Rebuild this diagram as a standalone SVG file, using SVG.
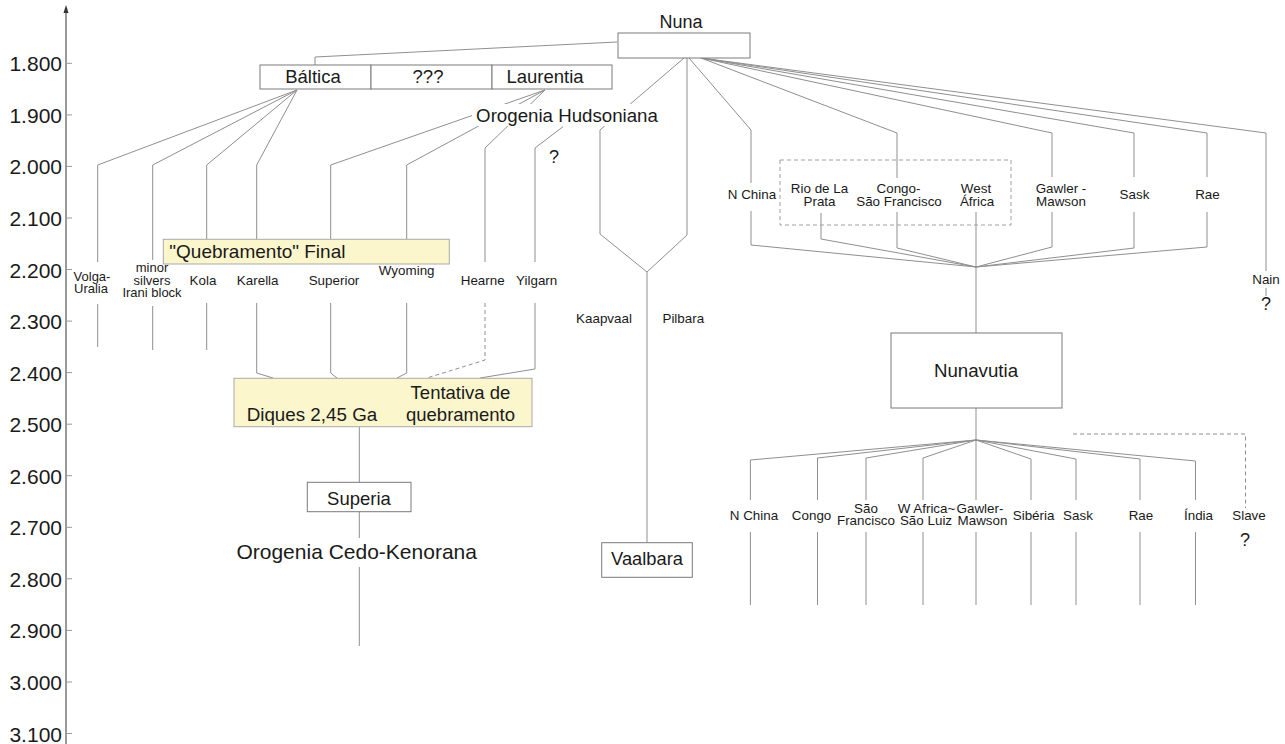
<svg xmlns="http://www.w3.org/2000/svg" width="1285" height="744" viewBox="0 0 1285 744">
<style>
.ln{stroke:#8f8f8f;stroke-width:1;fill:none}
.dash{stroke-dasharray:4 3}
.tick{stroke:#999;stroke-width:1}
.box{fill:#fff;stroke:#7a7a7a;stroke-width:1}
.ybox{fill:#fcf6cd;stroke:#a9a9a9;stroke-width:1}
.gbox{fill:none;stroke:#a0a0a0;stroke-width:1;stroke-dasharray:4 3}
text{font-family:"Liberation Sans",Arial,sans-serif;fill:#1a1a1a}
.ax{font-size:21px;text-anchor:end}
.s{font-size:13.4px;text-anchor:middle}
.m{font-size:18.5px;text-anchor:middle}
.l{font-size:21px;text-anchor:middle}
</style>
<rect width="1285" height="744" fill="#fff"/>
<g id="axis">
<line x1="66" y1="744" x2="66" y2="11" stroke="#555" stroke-width="1.2"/>
<polygon points="66,5 63.5,13 68.5,13" fill="#333"/>
<g>
<line class="tick" x1="66" y1="63.3" x2="72" y2="63.3"/>
<line class="tick" x1="66" y1="114.9" x2="72" y2="114.9"/>
<line class="tick" x1="66" y1="166.4" x2="72" y2="166.4"/>
<line class="tick" x1="66" y1="218" x2="72" y2="218"/>
<line class="tick" x1="66" y1="269.5" x2="72" y2="269.5"/>
<line class="tick" x1="66" y1="321.1" x2="72" y2="321.1"/>
<line class="tick" x1="66" y1="372.6" x2="72" y2="372.6"/>
<line class="tick" x1="66" y1="424.2" x2="72" y2="424.2"/>
<line class="tick" x1="66" y1="475.7" x2="72" y2="475.7"/>
<line class="tick" x1="66" y1="527.3" x2="72" y2="527.3"/>
<line class="tick" x1="66" y1="578.8" x2="72" y2="578.8"/>
<line class="tick" x1="66" y1="630.4" x2="72" y2="630.4"/>
<line class="tick" x1="66" y1="682" x2="72" y2="682"/>
<line class="tick" x1="66" y1="733.5" x2="72" y2="733.5"/>
</g>
<text class="ax" x="62" y="71.3">1.800</text>
<text class="ax" x="62" y="122.9">1.900</text>
<text class="ax" x="62" y="174.4">2.000</text>
<text class="ax" x="62" y="226">2.100</text>
<text class="ax" x="62" y="277.5">2.200</text>
<text class="ax" x="62" y="329.1">2.300</text>
<text class="ax" x="62" y="380.6">2.400</text>
<text class="ax" x="62" y="432.2">2.500</text>
<text class="ax" x="62" y="483.7">2.600</text>
<text class="ax" x="62" y="535.3">2.700</text>
<text class="ax" x="62" y="586.8">2.800</text>
<text class="ax" x="62" y="638.4">2.900</text>
<text class="ax" x="62" y="690">3.000</text>
<text class="ax" x="62" y="741.5">3.100</text>
</g>
<g id="connectors">
<polyline class="ln" points="617,42 315,57 315,65"/>
<polyline class="ln" points="297,90 97.7,165 97.7,262"/>
<polyline class="ln" points="297,90 152.7,165 152.7,260"/>
<polyline class="ln" points="297,90 206.7,165 206.7,239"/>
<polyline class="ln" points="297,90 256.7,165 256.7,239"/>
<polyline class="ln" points="545,90 330.7,165 330.7,239"/>
<polyline class="ln" points="545,90 406.7,165 406.7,239"/>
<polyline class="ln" points="545,90 485,148 485,262"/>
<polyline class="ln" points="563,126.7 535,148 535,262"/>
<polyline class="ln" points="97.7,304 97.7,347"/>
<polyline class="ln" points="152.7,306 152.7,350"/>
<polyline class="ln" points="206.7,303 206.7,350"/>
<polyline class="ln" points="256.7,303 256.7,373 273,378"/>
<polyline class="ln" points="330.7,303 330.7,373 337,378"/>
<polyline class="ln" points="406.7,303 406.7,373 397,378"/>
<polyline class="ln dash" points="485,303 485,360 427,378"/>
<polyline class="ln" points="535,303 535,369 480,378"/>
<polyline class="ln" points="359.3,427 359.3,482"/>
<polyline class="ln" points="359.3,512 359.3,538"/>
<polyline class="ln" points="359.3,567 359.3,646"/>
<polyline class="ln" points="684,58 600,130 600,234 647,272"/>
<polyline class="ln" points="687,58 687,235 647,272"/>
<polyline class="ln" points="647,272 647,543"/>
<polyline class="ln" points="689,58 751,130 751,183"/>
<polyline class="ln" points="701,58 897,133 897,178"/>
<polyline class="ln" points="701,58 1052,133 1052,177"/>
<polyline class="ln" points="701,58 1134,133 1134,177"/>
<polyline class="ln" points="701,58 1207,133 1207,177"/>
<polyline class="ln" points="701,58 1266,133 1266,271"/>
<polyline class="ln" points="1266,288 1266,296"/>
<polyline class="ln" points="751,211 751,245 976,267"/>
<polyline class="ln" points="821,213 821,239 976,267"/>
<polyline class="ln" points="897,212 897,248 976,267"/>
<polyline class="ln" points="1052,212 1052,247 976,267"/>
<polyline class="ln" points="1134,212 1134,248 976,267"/>
<polyline class="ln" points="1207,212 1207,247 976,267"/>
<polyline class="ln" points="976,212 976,333"/>
<polyline class="ln" points="976,408 976,440"/>
<polyline class="ln" points="976,440 750.4,460 750.4,500"/>
<polyline class="ln" points="976,440 817.5,458 817.5,500"/>
<polyline class="ln" points="976,440 866,458 866,500"/>
<polyline class="ln" points="976,440 923,458 923,500"/>
<polyline class="ln" points="976,440 976,500"/>
<polyline class="ln" points="976,440 1031,459 1031,500"/>
<polyline class="ln" points="976,440 1076,459 1076,500"/>
<polyline class="ln" points="976,440 1140,459 1140,500"/>
<polyline class="ln" points="976,440 1195.5,461 1195.5,500"/>
<line class="ln" x1="750.4" y1="532" x2="750.4" y2="605"/>
<line class="ln" x1="817.5" y1="532" x2="817.5" y2="605"/>
<line class="ln" x1="866" y1="532" x2="866" y2="605"/>
<line class="ln" x1="923" y1="532" x2="923" y2="605"/>
<line class="ln" x1="976" y1="532" x2="976" y2="605"/>
<line class="ln" x1="1031" y1="532" x2="1031" y2="605"/>
<line class="ln" x1="1076" y1="532" x2="1076" y2="605"/>
<line class="ln" x1="1140" y1="532" x2="1140" y2="605"/>
<line class="ln" x1="1195.5" y1="532" x2="1195.5" y2="605"/>
<polyline class="ln dash" points="1073,434 1245.5,434 1245.5,508"/>
</g>
<g id="group-dashed">
<rect class="gbox" x="780" y="160" width="231" height="65"/>
</g>
<g id="nuna">
<rect class="box" x="618" y="33" width="132" height="25"/>
<text class="m" x="681" y="28" style="font-size:18px">Nuna</text>
</g>
<g id="baltica">
<rect class="box" x="260" y="65" width="111" height="24"/>
<text class="m" x="313" y="83.3">Báltica</text>
</g>
<g id="unknown">
<rect class="box" x="371" y="65" width="121" height="24"/>
<text class="m" x="428" y="83.3">???</text>
</g>
<g id="laurentia">
<rect class="box" x="492" y="65" width="120" height="24"/>
<text class="m" x="545" y="83.3">Laurentia</text>
</g>
<g id="orogenia-hudsoniana">
<rect x="472" y="104" width="190" height="22" fill="#fff"/>
<text class="m" x="567" y="121.7" style="font-size:18.7px">Orogenia Hudsoniana</text>
<text class="m" x="554" y="163" style="font-size:18px">?</text>
</g>
<g id="quebramento-final">
<rect class="ybox" x="163.3" y="239.3" width="286" height="24.7"/>
<text x="169.3" y="258" style="font-size:19px">"Quebramento" Final</text>
</g>
<g id="left-cratons">
<text class="s" x="92" y="280.5" style="font-size:13px"><tspan x="92">Volga-</tspan><tspan x="91" dy="12.5">Uralia</tspan></text>
<text class="s" x="152" y="272" style="font-size:13px"><tspan x="152">minor</tspan><tspan x="152" dy="12.5">silvers</tspan><tspan x="152" dy="12.5">Irani block</tspan></text>
<text class="s" x="203" y="285">Kola</text>
<text class="s" x="257.7" y="285">Karella</text>
<text class="s" x="334" y="285">Superior</text>
<text class="s" x="406.7" y="275">Wyoming</text>
<text class="s" x="482.7" y="285">Hearne</text>
<text class="s" x="536.7" y="285">Yilgarn</text>
</g>
<g id="diques">
<rect class="ybox" x="234" y="378.3" width="298" height="48.4"/>
<text x="246.7" y="420.7" style="font-size:18.8px">Diques 2,45 Ga</text>
<text class="m" x="460.5" y="399.3"><tspan x="460.5">Tentativa de</tspan><tspan x="460.5" dy="21.4">quebramento</tspan></text>
</g>
<g id="superia">
<rect class="box" x="307.3" y="482.3" width="103.7" height="29.4"/>
<text class="m" x="359" y="505">Superia</text>
</g>
<g id="orogenia-cedo-kenorana">
<text class="l" x="356.7" y="559.3">Orogenia Cedo-Kenorana</text>
</g>
<g id="kaapvaal-pilbara">
<text class="s" x="604" y="323.3">Kaapvaal</text>
<text class="s" x="683.3" y="323.3">Pilbara</text>
</g>
<g id="vaalbara">
<rect class="box" x="601.7" y="542.7" width="90.6" height="34.6"/>
<text class="m" x="647" y="565" style="font-size:18.3px">Vaalbara</text>
</g>
<g id="nuna-cratons">
<text class="s" x="752" y="199.3">N China</text>
<text class="s" x="819.5" y="193.3"><tspan x="819.5">Rio de La</tspan><tspan x="819.5" dy="12.7">Prata</tspan></text>
<text class="s" x="898.5" y="193.3"><tspan x="898.5">Congo-</tspan><tspan x="899" dy="12.7">São Francisco</tspan></text>
<text class="s" x="976" y="193.3"><tspan x="976">West</tspan><tspan x="977" dy="12.7">África</tspan></text>
<text class="s" x="1061" y="193.3"><tspan x="1061">Gawler -</tspan><tspan x="1061" dy="12.7">Mawson</tspan></text>
<text class="s" x="1134.5" y="199.3">Sask</text>
<text class="s" x="1207.5" y="199.3">Rae</text>
</g>
<g id="nain">
<text class="s" x="1266" y="284">Nain</text>
<text class="m" x="1266" y="310" style="font-size:18px">?</text>
</g>
<g id="nunavutia">
<rect class="box" x="891" y="333" width="171" height="75"/>
<text class="m" x="976" y="377" style="font-size:18.7px">Nunavutia</text>
</g>
<g id="nunavutia-cratons">
<text class="s" x="754" y="519.5">N China</text>
<text class="s" x="811.6" y="519.5">Congo</text>
<text class="s" x="866" y="512.5"><tspan x="866">São</tspan><tspan x="866" dy="12.5">Francisco</tspan></text>
<text class="s" x="926.5" y="512.5"><tspan x="926.5">W Africa~</tspan><tspan x="926" dy="12.5">São Luiz</tspan></text>
<text class="s" x="980" y="512.5"><tspan x="980">Gawler-</tspan><tspan x="982.5" dy="12.5">Mawson</tspan></text>
<text class="s" x="1033.6" y="519.5">Sibéria</text>
<text class="s" x="1078" y="519.5">Sask</text>
<text class="s" x="1141" y="519.5">Rae</text>
<text class="s" x="1198.5" y="519.5">Índia</text>
</g>
<g id="slave">
<text class="s" x="1249" y="519.5">Slave</text>
<text class="m" x="1245" y="546" style="font-size:18px">?</text>
</g>
</svg>
